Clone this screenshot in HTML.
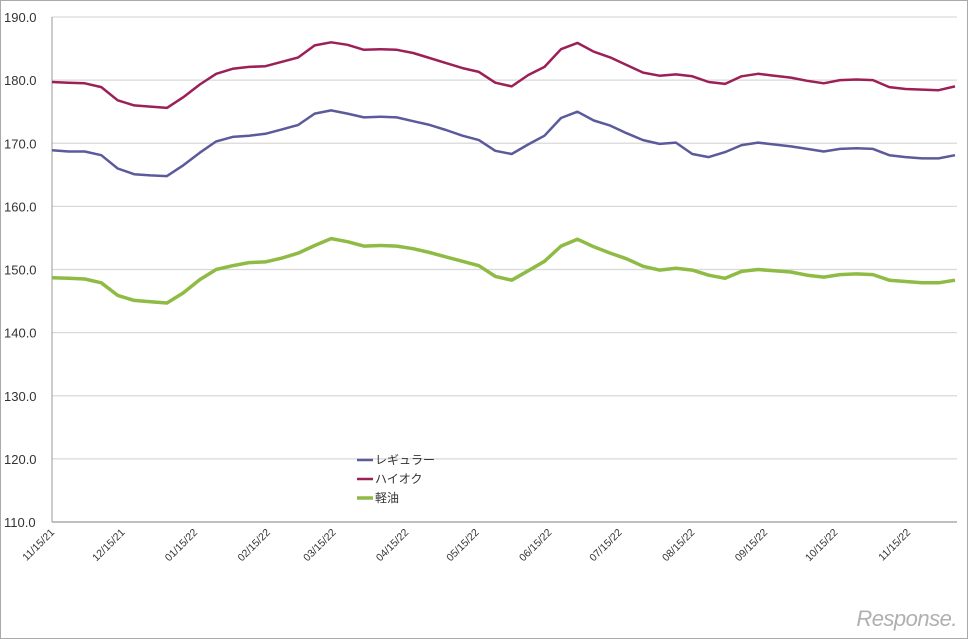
<!DOCTYPE html>
<html><head><meta charset="utf-8"><style>
html,body{margin:0;padding:0;background:#fff}
svg{display:block;font-family:"Liberation Sans","Noto Sans CJK JP",sans-serif}
</style></head><body>
<svg id="chart" width="968" height="639" viewBox="0 0 968 639">
<rect x="0.5" y="0.5" width="967" height="638" fill="#fff" stroke="#aaa"/>
<g id="grid"></g><g id="yaxis"></g><g id="xaxis"></g><g id="series"></g>
<g font-size="12" fill="#333">
<line x1="357" y1="460" x2="373" y2="460" stroke="#5b5a9b" stroke-width="2.5"/>
<text x="375" y="464">レギュラー</text>
<line x1="357" y1="479" x2="373" y2="479" stroke="#9c1f57" stroke-width="2.5"/>
<text x="375" y="483">ハイオク</text>
<line x1="357" y1="498" x2="373" y2="498" stroke="#8fbb45" stroke-width="3.5"/>
<text x="375" y="502">軽油</text>
</g>
<text x="957" y="626" text-anchor="end" font-size="22" fill="#b0b0b0" font-style="italic" letter-spacing="-0.5">Response.</text>
</svg>
<script>
const regular=[168.9,168.7,168.7,168.1,166.0,165.1,164.9,164.8,166.5,168.5,170.3,171.0,171.2,171.5,172.2,172.9,174.7,175.2,174.7,174.1,174.2,174.1,173.5,172.9,172.1,171.2,170.5,168.8,168.3,169.8,171.2,174.0,175.0,173.6,172.8,171.6,170.5,169.9,170.1,168.3,167.8,168.6,169.7,170.1,169.8,169.5,169.1,168.7,169.1,169.2,169.1,168.1,167.8,167.6,167.6,168.1];
const premium=[179.7,179.6,179.5,178.9,176.8,176.0,175.8,175.6,177.3,179.3,181.0,181.8,182.1,182.2,182.9,183.6,185.5,186.0,185.6,184.8,184.9,184.8,184.3,183.5,182.7,181.9,181.3,179.6,179.0,180.8,182.1,184.9,185.9,184.5,183.6,182.4,181.2,180.7,180.9,180.6,179.7,179.4,180.6,181.0,180.7,180.4,179.9,179.5,180.0,180.1,180.0,178.9,178.6,178.5,178.4,179.0];
const diesel=[148.7,148.6,148.5,147.9,145.9,145.1,144.9,144.7,146.3,148.4,150.0,150.6,151.1,151.2,151.8,152.6,153.8,154.9,154.4,153.7,153.8,153.7,153.3,152.7,152.0,151.3,150.6,148.9,148.3,149.8,151.3,153.7,154.8,153.6,152.6,151.7,150.5,149.9,150.2,149.9,149.1,148.6,149.7,150.0,149.8,149.6,149.1,148.8,149.2,149.3,149.2,148.3,148.1,147.9,147.9,148.3];
const yTicks=[110,120,130,140,150,160,170,180,190];
const xLabels=["11/15/21","12/15/21","01/15/22","02/15/22","03/15/22","04/15/22","05/15/22","06/15/22","07/15/22","08/15/22","09/15/22","10/15/22","11/15/22"];
const xLabelWeeks=[0,4.29,8.71,13.14,17.14,21.57,25.86,30.29,34.57,39,43.43,47.71,52.14];
const NS="http://www.w3.org/2000/svg";
const L=52,R=957,T=17,B=522;
const y=v=>B-(v-110)/80*(B-T);
const x=i=>L+i*(955-L)/55;
function mk(tag,attrs,parent){const e=document.createElementNS(NS,tag);for(const k in attrs)e.setAttribute(k,attrs[k]);parent.appendChild(e);return e;}
const grid=document.getElementById('grid'),ya=document.getElementById('yaxis'),xa=document.getElementById('xaxis'),sg=document.getElementById('series');
yTicks.forEach(t=>{
 const l=mk('line',{x1:L,x2:R,y1:y(t),y2:y(t),stroke:t===110?'#999':'#d9d9d9','stroke-width':1.3},grid);
 
 
 const tx=mk('text',{x:4,y:y(t)+5,'font-size':13,fill:'#333'},ya);
 tx.textContent=t.toFixed(1);
 
 
});
const ax=mk('line',{x1:L,x2:L,y1:T,y2:B,stroke:'#999','stroke-width':1},grid);


xLabels.forEach((s,i)=>{
 const px=x(xLabelWeeks[i])+3;
 const tx=mk('text',{x:px,y:533,'font-size':10.5,fill:'#333','text-anchor':'end',transform:`rotate(-45 ${px} 533)`},xa);
 tx.textContent=s;
 
 
});
[[premium,'#9c1f57',2.5,'line-premium'],[regular,'#5b5a9b',2.5,'line-regular'],[diesel,'#8fbb45',3.5,'line-diesel']].forEach(([d,c,w,n])=>{
 const p=mk('polyline',{points:d.map((v,i)=>x(i).toFixed(1)+','+y(v).toFixed(1)).join(' '),fill:'none',stroke:c,'stroke-width':w,'stroke-linejoin':'round'},sg);
 
 
});
</script>
</body></html>
